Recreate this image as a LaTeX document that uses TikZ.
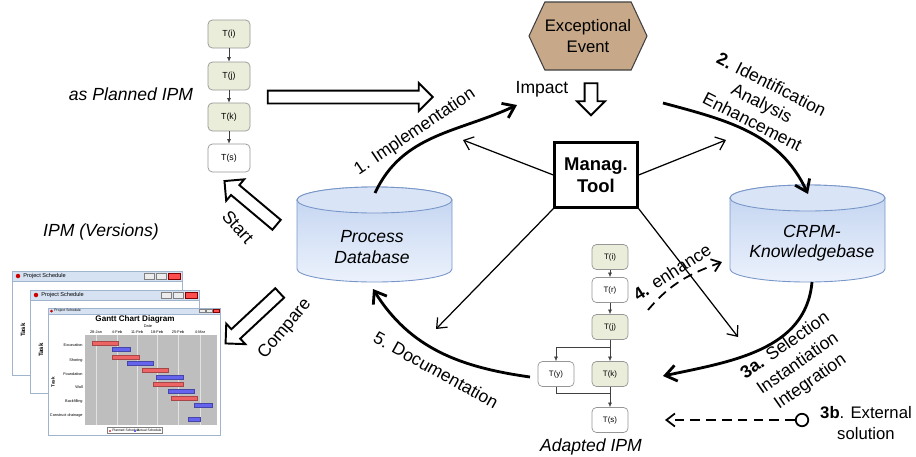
\documentclass[tikz,border=0pt]{standalone}
\usepackage{fontspec}
\setmainfont{Liberation Sans}
\usetikzlibrary{arrows.meta,shapes.arrows,shapes.symbols,positioning}

\definecolor{taskgreen}{RGB}{234,237,218}
\definecolor{taskline}{RGB}{150,150,150}
\definecolor{eventtan}{RGB}{199,168,137}
\definecolor{dbtop}{RGB}{192,210,240}
\definecolor{dbbottom}{RGB}{236,242,252}
\definecolor{dbline}{RGB}{120,150,200}
\definecolor{winframe}{RGB}{160,180,205}
\definecolor{wintitle}{RGB}{214,226,242}
\definecolor{plannedred}{RGB}{238,100,100}
\definecolor{actualblue}{RGB}{100,100,238}
\definecolor{plotgray}{RGB}{190,190,190}

\tikzset{
  task/.style={draw=taskline, rounded corners=2.5pt, minimum width=8.4mm, minimum height=5.6mm, inner sep=0pt, font=\fontsize{5}{6}\selectfont},
  donetask/.style={task, fill=taskgreen},
  opentask/.style={task, fill=white},
  smalltask/.style={minimum width=7.2mm, minimum height=5mm, font=\fontsize{4.5}{5}\selectfont},
  flow/.style={-{Latex[length=0.9mm,width=0.8mm]}, line width=0.35pt, draw=black!75},
  hollow/.style={single arrow, draw, line width=1.1pt, fill=white, inner xsep=0pt, inner ysep=1.1mm, minimum width=0pt, single arrow head extend=1.5mm},
  bigflow/.style={line width=1.6pt, -{Straight Barb[length=2.2mm,width=3.2mm]}},
  thinflow/.style={line width=0.7pt, -{Straight Barb[length=1.7mm,width=2.8mm]}},
  dashflow/.style={line width=1pt, dash pattern=on 5.5pt off 3.5pt, -{Straight Barb[length=1.7mm,width=2.6mm]}},
  tiny/.style={inner sep=0pt, font=\fontsize{2.2}{2.5}\selectfont},
}

\begin{document}
\begin{tikzpicture}[x=0.2mm, y=0.2mm, font=\fontsize{10}{11.5}\selectfont]
        \useasboundingbox (0,0) rectangle (916,456);

        % as planned process model
        \node[donetask] (pi) at (229,422) {T(i)};
        \node[donetask] (pj) at (229,380) {T(j)};
        \node[donetask] (pk) at (229,339) {T(k)};
        \node[opentask] (ps) at (229,298) {T(s)};
        \draw[flow] (pi) -- (pj);
        \draw[flow] (pj) -- (pk);
        \draw[flow] (pk) -- (ps);
        \node[font=\itshape\fontsize{10}{12}\selectfont] (plannedlbl) at (131,362) {as Planned IPM};

        % hollow arrows
        \node[hollow, minimum height=33mm] (planarrow) at (347,359) {};
        \node[hollow, rotate=-90, minimum height=6.4mm] (impactarrow) at (591,360) {};
        \node[hollow, rotate=140, minimum height=13.6mm] (startarrow) at (253,251) {};
        \node[hollow, rotate=223, minimum height=14.8mm] (comparearrow) at (255,140) {};
        \node[rotate=-48] (startlbl) at (238,229) {Start};
        \node[rotate=50] (comparelbl) at (285,127) {Compare};

        % exceptional event and tool
        \node[signal, signal to=west and east, signal pointer angle=130, draw=black!75, line width=0.6pt, fill=eventtan, minimum width=23.4mm, minimum height=13.6mm, inner sep=0pt, align=center, font=\fontsize{9.5}{11.5}\selectfont] (event) at (588,420) {Exceptional\\Event};
        \node (impact) at (542,367) {Impact};
        \node[draw, line width=1.3pt, minimum width=16.6mm, minimum height=13mm, align=center, font=\bfseries\fontsize{10.5}{12.5}\selectfont] (tool) at (596,281) {Manag.\\Tool};

        % process database
        \shadedraw[top color=dbtop, bottom color=dbbottom, draw=dbline, line width=0.5pt] (297,256) -- (297,187) arc[start angle=180, end angle=360, x radius=15.5mm, y radius=2.6mm] -- (452,256) arc[start angle=0, end angle=180, x radius=15.5mm, y radius=2.6mm] -- cycle;
        \filldraw[fill=dbtop!60!white, draw=dbline, line width=0.5pt] (374.5,256) ellipse[x radius=15.5mm, y radius=2.6mm];
        \node[align=center, font=\itshape\fontsize{10}{11.5}\selectfont] (pdb) at (372,209) {Process\\Database};
        \coordinate (pdbtop) at (375,263);
        \coordinate (pdbbottom) at (373,167);

        % knowledge base
        \shadedraw[top color=dbtop, bottom color=dbbottom, draw=dbline, line width=0.5pt] (730,258) -- (730,187) arc[start angle=180, end angle=360, x radius=15.5mm, y radius=2.6mm] -- (885,258) arc[start angle=0, end angle=180, x radius=15.5mm, y radius=2.6mm] -- cycle;
        \filldraw[fill=dbtop!60!white, draw=dbline, line width=0.5pt] (807.5,258) ellipse[x radius=15.5mm, y radius=2.6mm];
        \node[align=center, font=\itshape\fontsize{10}{11.5}\selectfont] (crpm) at (812,213) {CRPM-\\Knowledgebase};
        \coordinate (crpmtop) at (808,262);
        \coordinate (crpmbottom) at (812,174);

        % adapted process model
        \node[donetask, smalltask] (ai) at (610,199) {T(i)};
        \node[opentask, smalltask] (ar) at (610,166) {T(r)};
        \node[donetask, smalltask] (aj) at (610,129) {T(j)};
        \node[opentask, smalltask] (ay) at (556,82) {T(y)};
        \node[donetask, smalltask] (ak) at (610,82) {T(k)};
        \node[opentask, smalltask] (as) at (610,36) {T(s)};
        \coordinate (split) at (610,109);
        \coordinate (merge) at (610,63);
        \draw[flow] (ai) -- (ar);
        \draw[flow] (ar) -- (aj);
        \draw[flow] (aj) -- (ak);
        \draw[flow] (ak) -- (as);
        \draw[flow] (split) -| (ay);
        \draw[line width=0.35pt, draw=black!75] (ay) |- (merge);
        \node[font=\itshape\fontsize{10}{12}\selectfont] (adaptedlbl) at (591,9) {Adapted IPM};

        % cycle
        \coordinate (impl) at (517,351);
        \coordinate (ident) at (663,353);
        \coordinate (select) at (663,80);
        \coordinate (docu) at (530,79);
        \draw[bigflow] (pdbtop) to[out=65, in=205] (impl);
        \draw[bigflow] (ident) to[out=-15, in=115] (crpmtop);
        \draw[bigflow] (crpmbottom) to[out=-95, in=12] (select);
        \draw[bigflow] (docu) to[out=172, in=-58] (pdbbottom);

        \node[rotate=34] (lbl1) at (415,324) {1. Implementation};
        \node[rotate=-27, align=center, font=\fontsize{10}{12}\selectfont] (lbl2) at (762,353) {\textbf{2.} Identification\\Analysis\\Enhancement};
        \node[rotate=35, align=center, font=\fontsize{10}{12.5}\selectfont] (lbl3a) at (798,92) {\textbf{3a.} Selection\\Instantiation\\Integration};
        \node[rotate=-29] (lbl5) at (436,86) {5. Documentation};

        % tool links
        \coordinate (toolnw) at (463,316);
        \coordinate (toolne) at (726,316);
        \coordinate (toolsw) at (436,127);
        \coordinate (toolse) at (738,119);
        \draw[thinflow] (tool.west) -- (toolnw);
        \draw[thinflow] (tool.east) -- (toolne);
        \draw[thinflow] (tool.south west) -- (toolsw);
        \draw[thinflow] (tool.south east) -- (toolse);

        % enhance and external solution
        \coordinate (enhstart) at (648,146);
        \coordinate (enhend) at (722,194);
        \draw[dashflow] (enhstart) to[out=50, in=200] (enhend);
        \node[rotate=33] (lbl4) at (672,184) {\textbf{4.} enhance};
        \node[circle, draw, line width=1pt, minimum size=2.5mm, inner sep=0pt] (ext) at (802,36) {};
        \coordinate (extend) at (665,36);
        \draw[dashflow] (ext) -- (extend);
        \node[align=center, font=\fontsize{9.5}{11.5}\selectfont] (lbl3b) at (866,33) {\textbf{3b}. External\\solution};

        % IPM versions
        \node[font=\itshape\fontsize{10}{12}\selectfont] (versionslbl) at (101,224) {IPM (Versions)};

        \filldraw[fill=white, draw=winframe, line width=0.4pt] (12,81) rectangle (182,185);
        \filldraw[fill=wintitle, draw=winframe, line width=0.4pt] (12,175) rectangle (182,185);
        \fill[red!80!black] (18,180) circle (0.45mm);
        \node[tiny, anchor=west, font=\fontsize{3.2}{3.5}\selectfont] (w1title) at (23,180) {Project Schedule};
        \filldraw[fill=white!85!gray, draw=gray, line width=0.2pt] (144,177) rectangle (154,183);
        \filldraw[fill=white!85!gray, draw=gray, line width=0.2pt] (156,177) rectangle (166,183);
        \filldraw[fill=red!70, draw=red!50!black, line width=0.2pt] (168,177) rectangle (180,183);
        \node[tiny, rotate=90, font=\bfseries\fontsize{3.5}{4}\selectfont] (w1task) at (23,126) {Task};

        \filldraw[fill=white, draw=winframe, line width=0.4pt] (30,63) rectangle (199,166);
        \filldraw[fill=wintitle, draw=winframe, line width=0.4pt] (30,156) rectangle (199,166);
        \fill[red!80!black] (36,161) circle (0.45mm);
        \node[tiny, anchor=west, font=\fontsize{3.2}{3.5}\selectfont] (w2title) at (41,161) {Project Schedule};
        \filldraw[fill=white!85!gray, draw=gray, line width=0.2pt] (161,158) rectangle (171,164);
        \filldraw[fill=white!85!gray, draw=gray, line width=0.2pt] (173,158) rectangle (183,164);
        \filldraw[fill=red!70, draw=red!50!black, line width=0.2pt] (185,158) rectangle (197,164);
        \node[tiny, rotate=90, font=\bfseries\fontsize{3.5}{4}\selectfont] (w2task) at (41,106) {Task};

        \filldraw[fill=white, draw=winframe, line width=0.4pt] (48,21) rectangle (220,148);
        \filldraw[fill=wintitle, draw=winframe, line width=0.3pt] (48,142) rectangle (220,148);
        \fill[red!80!black] (51.5,145) circle (0.3mm);
        \node[tiny, anchor=west, font=\fontsize{2}{2.2}\selectfont] (w3title) at (54,145) {Project Schedule};
        \filldraw[fill=white!85!gray, draw=gray, line width=0.15pt] (199,143.5) rectangle (205,146.5);
        \filldraw[fill=white!85!gray, draw=gray, line width=0.15pt] (206,143.5) rectangle (212,146.5);
        \filldraw[fill=red!70, draw=red!50!black, line width=0.15pt] (213,143.5) rectangle (219,146.5);
        \node[tiny, font=\bfseries\fontsize{4.6}{5}\selectfont] (gtitle) at (135,137) {Gantt Chart Diagram};
        \node[tiny] (gdate) at (148,130) {Date};
        \node[tiny] (d1) at (96,124) {28-Jan};
        \node[tiny] (d2) at (117,124) {4-Feb};
        \node[tiny] (d3) at (137,124) {11-Feb};
        \node[tiny] (d4) at (157,124) {18-Feb};
        \node[tiny] (d5) at (178,124) {25-Feb};
        \node[tiny] (d6) at (200,124) {4-Mar};
        \fill[plotgray] (85,31) rectangle (217,121);
        \draw[white!55!plotgray, line width=0.2pt] (96,31) -- (96,121);
        \draw[white!55!plotgray, line width=0.2pt] (117,31) -- (117,121);
        \draw[white!55!plotgray, line width=0.2pt] (137,31) -- (137,121);
        \draw[white!55!plotgray, line width=0.2pt] (157,31) -- (157,121);
        \draw[white!55!plotgray, line width=0.2pt] (178,31) -- (178,121);
        \draw[white!55!plotgray, line width=0.2pt] (200,31) -- (200,121);
        \filldraw[fill=plannedred, draw=plannedred!70!black, line width=0.2pt] (92,111) rectangle (118,115);
        \filldraw[fill=actualblue, draw=actualblue!70!black, line width=0.2pt] (112,105) rectangle (130,109);
        \filldraw[fill=plannedred, draw=plannedred!70!black, line width=0.2pt] (112,97) rectangle (139,101);
        \filldraw[fill=actualblue, draw=actualblue!70!black, line width=0.2pt] (127,91) rectangle (153,95);
        \filldraw[fill=plannedred, draw=plannedred!70!black, line width=0.2pt] (142,84) rectangle (168,88);
        \filldraw[fill=actualblue, draw=actualblue!70!black, line width=0.2pt] (156,77) rectangle (183,81);
        \filldraw[fill=plannedred, draw=plannedred!70!black, line width=0.2pt] (153,70) rectangle (183,74);
        \filldraw[fill=actualblue, draw=actualblue!70!black, line width=0.2pt] (168,63) rectangle (194,67);
        \filldraw[fill=plannedred, draw=plannedred!70!black, line width=0.2pt] (171,56) rectangle (197,60);
        \filldraw[fill=actualblue, draw=actualblue!70!black, line width=0.2pt] (194,49) rectangle (212,53);
        \filldraw[fill=actualblue, draw=actualblue!70!black, line width=0.2pt] (188,35) rectangle (200,39);
        \node[tiny, anchor=east] (t1) at (83,111) {Excavation};
        \node[tiny, anchor=east] (t2) at (83,96) {Shoring};
        \node[tiny, anchor=east] (t3) at (83,82) {Foundation};
        \node[tiny, anchor=east] (t4) at (83,69) {Wall};
        \node[tiny, anchor=east] (t5) at (83,55) {Backfilling};
        \node[tiny, anchor=east] (t6) at (83,41) {Construct drainage};
        \node[tiny, rotate=90, font=\bfseries\fontsize{2.6}{3}\selectfont] (w3task) at (53,74) {Task};
        \filldraw[fill=white, draw=gray, line width=0.2pt] (107,22.5) rectangle (162,28.5);
        \fill[plannedred] (109,24.5) rectangle (111,26.5);
        \node[tiny, anchor=west, font=\fontsize{1.9}{2}\selectfont] (leg1) at (112,25.5) {Planned Schedule};
        \fill[actualblue] (134,24.5) rectangle (136,26.5);
        \node[tiny, anchor=west, font=\fontsize{1.9}{2}\selectfont] (leg2) at (137,25.5) {Actual Schedule};
    \end{tikzpicture}
\end{document}
